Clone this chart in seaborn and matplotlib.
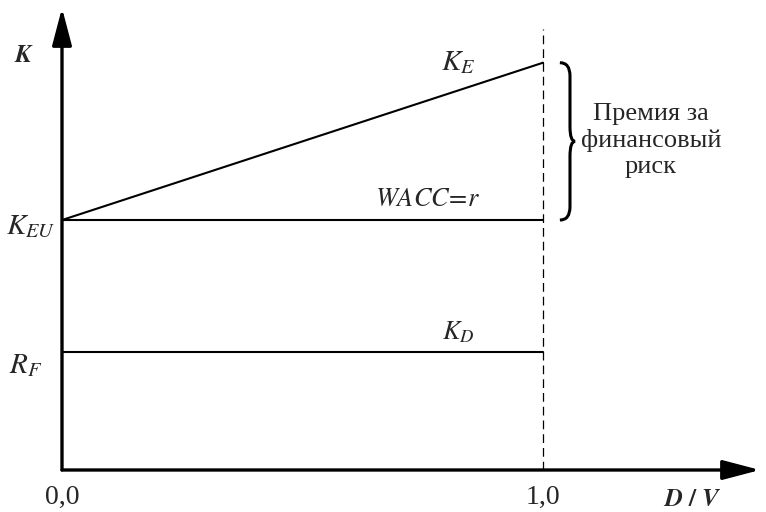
import numpy as np
import pandas as pd
import matplotlib.pyplot as plt
import seaborn as sns
from matplotlib.path import Path
from matplotlib.patches import PathPatch

sns.set_theme(style="white")
plt.rcParams['font.family'] = ['Liberation Serif', 'DejaVu Serif']
plt.rcParams['mathtext.fontset'] = 'stix'

# leverage D/V and the three rates (arbitrary units)
dv = [0.0, 1.0]
k_e = [8.5, 13.85]
wacc = [8.5, 8.5]
k_d = [4.0, 4.0]
r_f = 4.0
k_eu = 8.5
x_max = 1.451
y_max = 15.71

df = pd.DataFrame({
    "dv": dv * 3,
    "rate": k_e + wacc + k_d,
    "line": ["K_E"] * 2 + ["WACC"] * 2 + ["K_D"] * 2,
})

fig = plt.figure(figsize=(7.66, 5.12), dpi=100)
ax = fig.add_axes([62 / 766, 42 / 512, (760 - 62) / 766, 462 / 512])

sns.lineplot(data=df, x="dv", y="rate", units="line", estimator=None,
             color="black", lw=1.5, ax=ax, legend=False)

ax.set_xlim(0, x_max)
ax.set_ylim(0, y_max)
for s in ax.spines.values():
    s.set_visible(False)
ax.set_xticks([])
ax.set_yticks([])
ax.set_xlabel("")
ax.set_ylabel("")

# axes with arrows
arrow = dict(arrowstyle="-|>,head_length=1.9,head_width=0.5", color="black", lw=2.4,
             shrinkA=0, shrinkB=0)
ax.annotate("", xy=(0, y_max), xytext=(0, 0), arrowprops=arrow, annotation_clip=False)
ax.annotate("", xy=(x_max, 0), xytext=(0, 0), arrowprops=arrow, annotation_clip=False)

# dashed line at D/V = 1
ax.plot([1, 1], [0, 15.0], color="black", lw=0.9, ls=(0, (7, 4)))

# curly brace for the financial risk premium
bx = 1.035
w = 0.021
y0, y1 = k_eu, k_e[1]
ym = (y0 + y1) / 2
verts = [(bx, y1), (bx + w, y1), (bx + w, y1 - 0.45), (bx + w, ym + 0.5),
         (bx + w, ym), (bx + 1.5 * w, ym),
         (bx + w, ym), (bx + w, ym - 0.5), (bx + w, y0 + 0.45),
         (bx + w, y0), (bx, y0)]
codes = [Path.MOVETO, Path.CURVE3, Path.CURVE3, Path.LINETO, Path.CURVE3, Path.CURVE3,
         Path.CURVE3, Path.CURVE3, Path.LINETO, Path.CURVE3, Path.CURVE3]
ax.add_patch(PathPatch(Path(verts, codes), fill=False, lw=2.2, color="black"))
ax.text(1.224, 11.2, "Премия за\nфинансовый\nриск", ha="center", va="center",
        fontsize=19, linespacing=1.22)

# labels
ax.text(-0.079, 14.08, r"$\boldsymbol{K}$", ha="center", va="center", fontsize=18)
ax.text(-0.066, 8.25, r"$K_{EU}$", ha="center", va="center", fontsize=21)
ax.text(-0.075, 3.55, r"$R_F$", ha="center", va="center", fontsize=21)
ax.text(0.823, 13.85, r"$K_E$", ha="center", va="center", fontsize=21)
ax.text(0.76, 9.18, r"$WACC\!=\!r$", ha="center", va="center", fontsize=19)
ax.text(0.823, 4.7, r"$K_D$", ha="center", va="center", fontsize=19)
ax.text(0, -0.92, "0,0", ha="center", va="center", fontsize=20)
ax.text(1, -0.92, "1,0", ha="center", va="center", fontsize=20)
ax.text(1.31, -1.02, r"$\boldsymbol{D\ /\ V}$", ha="center", va="center", fontsize=18)

fig.savefig("out.png", dpi=100)
